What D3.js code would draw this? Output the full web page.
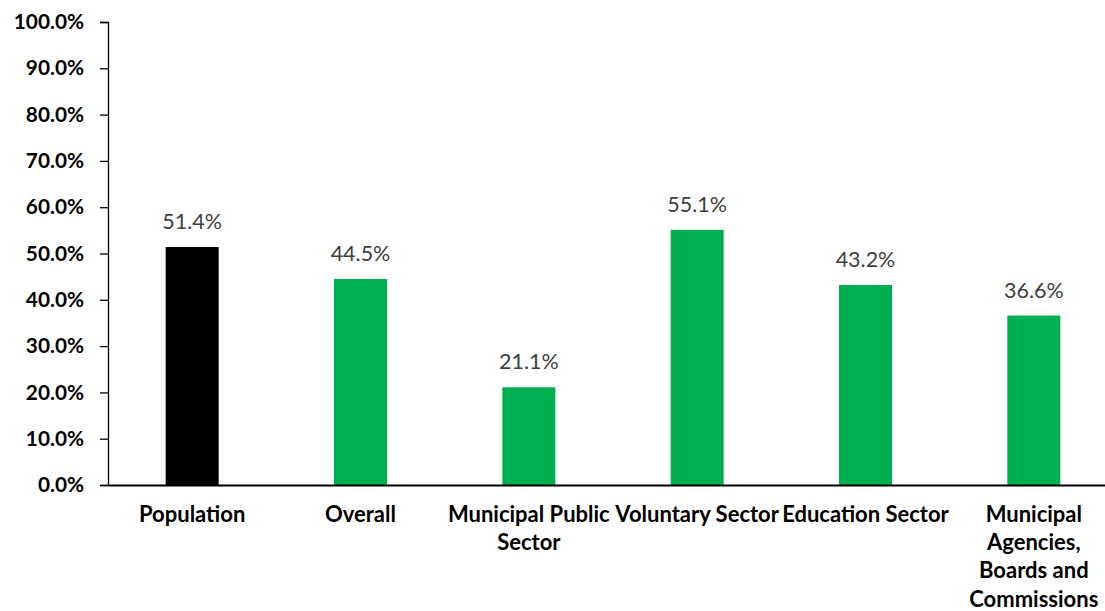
<!DOCTYPE html>
<html>
<head>
<meta charset="utf-8">
<script src="https://cdn.jsdelivr.net/npm/d3@7"></script>
<style>
  html, body { margin: 0; padding: 0; background: #fff; }
  svg { display: block; }
</style>
</head>
<body>
<svg id="chart" width="1105" height="611"></svg>
<script>
const categories = ["Population", "Overall", "Municipal Public Sector", "Voluntary Sector", "Education Sector", "Municipal Agencies, Boards and Commissions"];
const values = [0.514, 0.445, 0.211, 0.551, 0.432, 0.366];
const valueLabels = ["51.4%", "44.5%", "21.1%", "55.1%", "43.2%", "36.6%"];
const barColors = ["#000000", "#00B050", "#00B050", "#00B050", "#00B050", "#00B050"];
const tickLines = [["Population"], ["Overall"], ["Municipal Public", "Sector"], ["Voluntary Sector"], ["Education Sector"], ["Municipal", "Agencies,", "Boards and", "Commissions"]];
const yTicks = [0, 0.1, 0.2, 0.3, 0.4, 0.5, 0.6, 0.7, 0.8, 0.9, 1.0];

const svg = d3.select("#chart");
const x = d3.scaleBand().domain(categories).range([108, 1118]).paddingInner(0.685).paddingOuter(0.3425);
const y = d3.scaleLinear().domain([0, 1]).range([485, 22]);

const font = "Lato, 'Open Sans', sans-serif";

// bars
svg.selectAll("rect.bar").data(categories).join("rect")
  .attr("class", "bar")
  .attr("x", d => x(d))
  .attr("width", x.bandwidth())
  .attr("y", (d, i) => y(values[i]))
  .attr("height", (d, i) => y(0) - y(values[i]))
  .attr("fill", (d, i) => barColors[i]);

// value labels
svg.selectAll("text.val").data(categories).join("text")
  .attr("class", "val")
  .attr("x", d => x(d) + x.bandwidth() / 2)
  .attr("y", (d, i) => y(values[i]) - 18)
  .attr("text-anchor", "middle")
  .attr("font-family", font)
  .attr("font-size", 21.5)
  .attr("fill", "#404040")
  .text((d, i) => valueLabels[i]);

// y axis
const yAxis = d3.axisLeft(y).tickValues(yTicks).tickFormat(d3.format(".1%")).tickSize(8).tickSizeOuter(8).tickPadding(16);
const gy = svg.append("g").attr("transform", "translate(108,0)").call(yAxis);
gy.select(".domain").attr("stroke", "#000").attr("stroke-width", 1.3);
gy.selectAll(".tick line").attr("stroke", "#000").attr("stroke-width", 1.3);
gy.selectAll(".tick text").attr("font-family", font).attr("font-size", 20.8).attr("font-weight", "bold").attr("fill", "#000");

// x axis
const xAxis = d3.axisBottom(x).tickSize(0).tickSizeOuter(0).tickFormat("");
const gx = svg.append("g").attr("transform", "translate(0,485)").call(xAxis);
gx.select(".domain").attr("stroke", "#000").attr("stroke-width", 2);

// category labels (wrapped)
const lbl = svg.selectAll("text.cat").data(categories).join("text")
  .attr("class", "cat")
  .attr("text-anchor", "middle")
  .attr("font-family", font)
  .attr("font-size", 22)
  .attr("font-weight", "bold")
  .attr("fill", "#000");
lbl.each(function(d, i) {
  const t = d3.select(this);
  tickLines[i].forEach((line, j) => {
    t.append("tspan")
      .attr("x", x(d) + x.bandwidth() / 2)
      .attr("y", 522 + j * 28.2)
      .text(line);
  });
});
</script>
</body>
</html>
